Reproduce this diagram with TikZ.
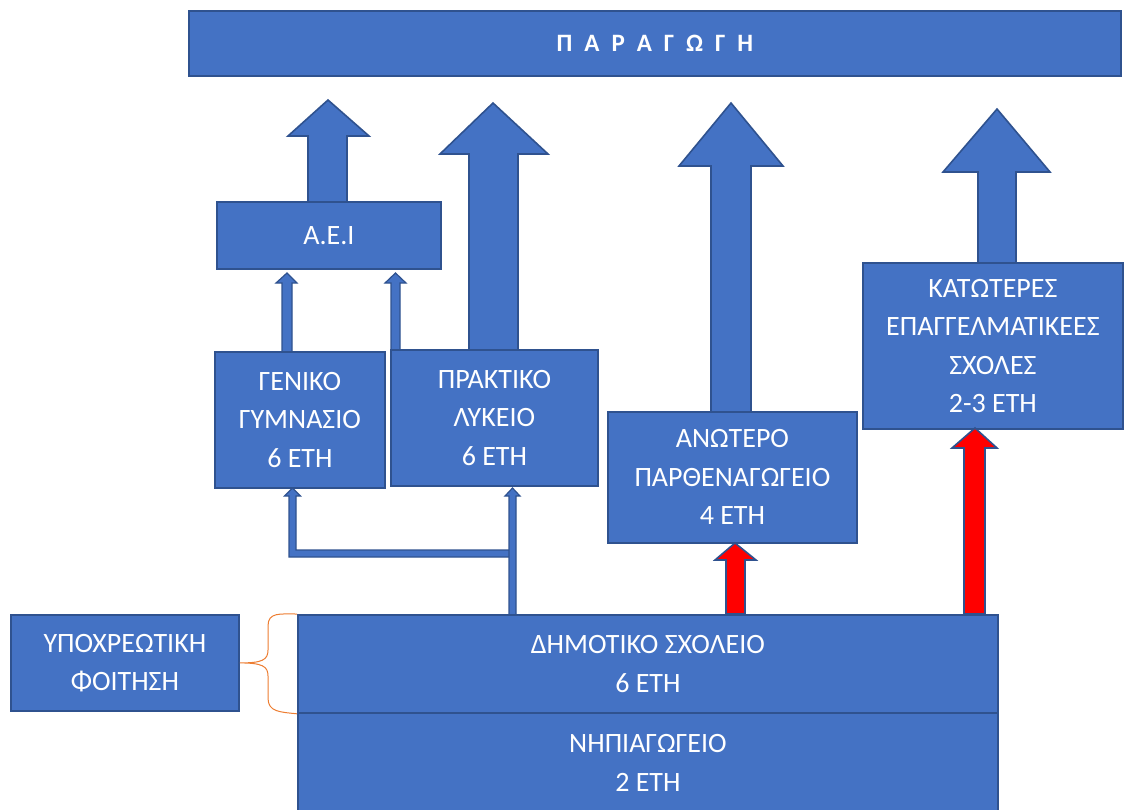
\documentclass[tikz,border=0pt]{standalone}
\usepackage{fontspec}
\setmainfont{Carlito}
\usetikzlibrary{calc}
\definecolor{boxblue}{HTML}{4472C4}
\definecolor{edgeblue}{HTML}{2F528F}
\definecolor{braceor}{HTML}{ED7D31}
\tikzset{
  blk/.style={draw=edgeblue, fill=boxblue, line width=1.8pt, text=white, align=center,
    inner sep=0pt, anchor=north west, font=\fontsize{28}{38.5}\selectfont},
  bigarrow/.style={draw=edgeblue, fill=boxblue, line width=1.6pt, line join=miter},
  thinarrow/.style={draw=edgeblue, fill=boxblue, line width=1.2pt, line join=miter},
  redarrow/.style={draw=edgeblue, fill=red, line width=1.6pt, line join=miter},
  bracestyle/.style={draw=braceor, line width=1pt},
}
\begin{document}
\begin{tikzpicture}[x=1pt,y=-1pt]
\useasboundingbox (0,0) rectangle (1131,809);
% big block arrows towards production
\path[bigarrow] (308,205) -- (308,136) -- (288,136) -- (328,100) -- (369,136) -- (347,136) -- (347,205) -- cycle;
\path[bigarrow] (469,352) -- (469,154) -- (440,154) -- (493,103) -- (548,154) -- (518,154) -- (518,352) -- cycle;
\path[bigarrow] (711,414) -- (711,166) -- (679,166) -- (731,103) -- (783,166) -- (751,166) -- (751,414) -- cycle;
\path[bigarrow] (978,265) -- (978,172) -- (943,172) -- (997,109) -- (1050,172) -- (1016,172) -- (1016,265) -- cycle;
% thin arrows to A.E.I
\path[thinarrow] (282,353) -- (282,283) -- (276,283) -- (287,273) -- (297,283) -- (292,283) -- (292,353) -- cycle;
\path[thinarrow] (391,350) -- (391,283) -- (385,283) -- (395.5,273) -- (406,283) -- (400,283) -- (400,350) -- cycle;
% bent arrow and vertical arrow from primary school
\path[thinarrow] (512,550) -- (296,550) -- (296,496) -- (300.5,496) -- (292.5,488) -- (284.5,496) -- (289,496) -- (289,557) -- (512,557) -- cycle;
\path[thinarrow] (509,616) -- (509,496) -- (505,496) -- (512.5,488) -- (520,496) -- (516,496) -- (516,616) -- cycle;
% boxes
\node[blk, minimum width=932pt, minimum height=65pt] (prod) at (188,10)
  {\fontsize{25}{30}\selectfont\bfseries\spaceskip=12pt Π Α Ρ Α Γ Ω Γ Η};
\node[blk, minimum width=224pt, minimum height=67pt] (aei) at (216,201) {Α.Ε.Ι};
\node[blk, minimum width=170pt, minimum height=136pt] (gen) at (214,351) {ΓΕΝΙΚΟ\\ΓΥΜΝΑΣΙΟ\\6 ΕΤΗ};
\node[blk, minimum width=207pt, minimum height=136pt] (prak) at (390,349) {ΠΡΑΚΤΙΚΟ\\ΛΥΚΕΙΟ\\6 ΕΤΗ};
\node[blk, minimum width=249pt, minimum height=131pt] (anot) at (607,411) {ΑΝΩΤΕΡΟ\\ΠΑΡΘΕΝΑΓΩΓΕΙΟ\\4 ΕΤΗ};
\node[blk, minimum width=260pt, minimum height=166pt] (kat) at (862,262) {ΚΑΤΩΤΕΡΕΣ\\ΕΠΑΓΓΕΛΜΑΤΙΚΕΕΣ\\ΣΧΟΛΕΣ\\2-3 ΕΤΗ};
\node[blk, minimum width=700pt, minimum height=98pt] (dim) at (297,614) {ΔΗΜΟΤΙΚΟ ΣΧΟΛΕΙΟ\\6 ΕΤΗ};
\node[blk, minimum width=700pt, minimum height=100pt] (nip) at (297,712) {ΝΗΠΙΑΓΩΓΕΙΟ\\2 ΕΤΗ};
\node[blk, minimum width=228pt, minimum height=96pt] (ypo) at (10,614) {ΥΠΟΧΡΕΩΤΙΚΗ\\ΦΟΙΤΗΣΗ};
% red arrows
\path[redarrow] (726,614) -- (726,560) -- (715,560) -- (735,543) -- (756,560) -- (745,560) -- (745,614) -- cycle;
\path[redarrow] (964,614) -- (964,448) -- (952,448) -- (975,428) -- (997,448) -- (985,448) -- (985,614) -- cycle;
% brace
\draw[bracestyle] (dim.north west) .. controls (280,614) and (268,612) .. (268,626)
  -- (268,650) .. controls (268,660) and (262,663) .. (ypo.east)
  .. controls (262,663) and (268,666) .. (268,676)
  -- (268,698) .. controls (268,712) and (280,712) .. (dim.south west);
\end{tikzpicture}
\end{document}
